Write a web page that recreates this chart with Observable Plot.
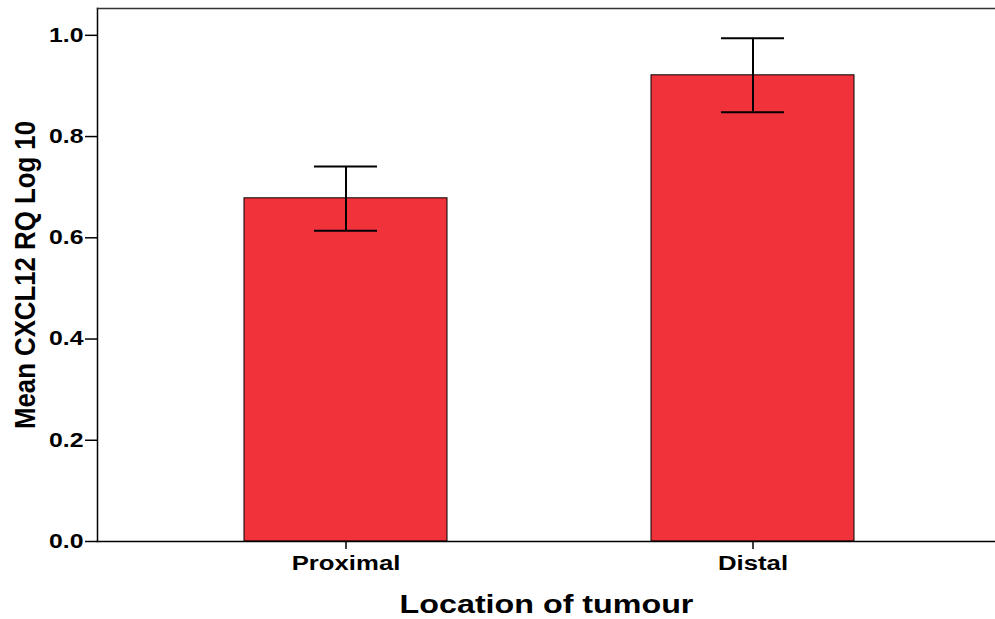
<!DOCTYPE html>
<html>
<head>
<meta charset="utf-8">
<script src="https://cdn.jsdelivr.net/npm/d3@7"></script>
<script src="https://cdn.jsdelivr.net/npm/@observablehq/plot@0.6"></script>
<style>
  html, body { margin: 0; padding: 0; background: #fff; overflow: hidden; }
</style>
</head>
<body>
<div id="chart"></div>
<script>
const categories = ["Proximal", "Distal"];
const means = [0.678, 0.921];
const lower = [0.614, 0.848];
const upper = [0.741, 0.994];
const yTicks = [0, 0.2, 0.4, 0.6, 0.8, 1.0];
const xLabel = "Location of tumour";
const yLabel = "Mean CXCL12 RQ Log 10";

const data = categories.map((c, i) => ({cat: c, mean: means[i], lo: lower[i], hi: upper[i]}));

const W = 995, H = 619;
const chart = Plot.plot({
  width: W,
  height: H,
  marginLeft: 97,
  marginRight: 0,
  marginTop: 8,
  marginBottom: 78,
  style: {fontFamily: "'Liberation Sans', Arial, sans-serif", fontWeight: "bold", background: "#fff", color: "#000"},
  x: {domain: categories, range: [97, 1001], paddingInner: 0.501, paddingOuter: 0.36, align: 0.5},
  y: {domain: [0, 1.053], range: [541, 8]},
  marks: [
    Plot.barY(data, {x: "cat", y: "mean", fill: "#F0333A", stroke: "#000", strokeWidth: 1}),
    Plot.ruleX(data, {x: "cat", y1: "lo", y2: "hi", stroke: "#000", strokeWidth: 2}),
    Plot.tickY(data, {x: "cat", y: "lo", stroke: "#000", strokeWidth: 2, insetLeft: 70, insetRight: 70}),
    Plot.tickY(data, {x: "cat", y: "hi", stroke: "#000", strokeWidth: 2, insetLeft: 70, insetRight: 70}),
    Plot.axisY({ticks: yTicks, tickFormat: d3.format(".1f"), tickSize: 12, tickPadding: 2, fontWeight: "bold", label: null, strokeWidth: 1.5}),
    Plot.axisX({tickSize: 8, tickPadding: 7, fontWeight: "bold", label: null, strokeWidth: 1.5}),
    Plot.frame({anchor: "left", stroke: "#000", strokeWidth: 1.5}),
    Plot.frame({anchor: "top", stroke: "#333", strokeWidth: 1.5}),
    Plot.frame({anchor: "bottom", stroke: "#000", strokeWidth: 1.5}),
    Plot.text([yLabel], {frameAnchor: "left", rotate: -90, dx: -72, fontSize: 25, fontWeight: "bold", fill: "#000", textAnchor: "middle", lineAnchor: "middle"}),
    Plot.text([xLabel], {frameAnchor: "bottom", dy: 63, fontSize: 25, fontWeight: "bold", fill: "#000", textAnchor: "middle", lineAnchor: "middle"})
  ]
});
document.getElementById("chart").appendChild(chart);

// Font sizing and horizontal stretch to match the reference's wide lettering
function styleText(t, size, stretch, fixedLen) {
  t.setAttribute("font-size", size);
  t.style.fontSize = size + "px";
  if (fixedLen) {
    t.setAttribute("textLength", fixedLen);
    t.setAttribute("lengthAdjust", "spacingAndGlyphs");
  } else if (stretch !== 1) {
    const len = t.getComputedTextLength();
    t.setAttribute("textLength", (len * stretch).toFixed(1));
    t.setAttribute("lengthAdjust", "spacingAndGlyphs");
  }
}
function styleGroup(label, size, stretch) {
  chart.querySelectorAll(`g[aria-label="${label}"]`).forEach(g => {
    g.setAttribute("font-size", size);
    g.querySelectorAll("text").forEach(t => styleText(t, size, stretch));
  });
}
styleGroup("y-axis tick label", 20, 1.24);
styleGroup("x-axis tick label", 19.5, 1.32);
chart.querySelectorAll("text").forEach(t => {
  if (t.textContent === xLabel) styleText(t, 25, 1.29);
  if (t.textContent === yLabel) styleText(t, 29, 1, 308);
});
</script>
</body>
</html>
